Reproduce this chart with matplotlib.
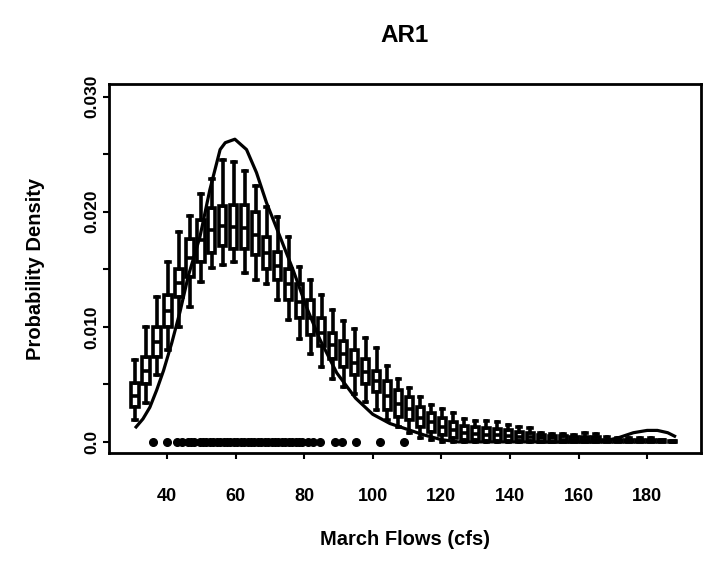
import matplotlib
matplotlib.use("Agg")
import matplotlib.pyplot as plt

plt.rcParams["font.family"] = ["Liberation Sans", "DejaVu Sans"]

# grid of flows where the simulated densities were evaluated
positions = [30.7, 33.9, 37.1, 40.3, 43.5, 46.7, 49.9, 53.1, 56.3, 59.5,
             62.7, 65.9, 69.1, 72.3, 75.5, 78.7, 81.9, 85.1, 88.3, 91.5,
             94.7, 97.9, 101.1, 104.3, 107.5, 110.7, 113.9, 117.1, 120.3, 123.5,
             126.7, 129.9, 133.1, 136.3, 139.5, 142.7, 145.9, 149.1, 152.3, 155.5,
             158.7, 161.9, 165.1, 168.3, 171.5, 174.7, 177.9, 181.1, 184.3, 187.5]

# box statistics of the simulated densities
whis_lo = [.0019, .0034, .0058, .0080, .0100, .0117, .0139, .0151, .0154, .0156,
           .0147, .0141, .0137, .0123, .0106, .0089, .0076, .0065, .0055, .0048,
           .0042, .0035, .0028, .0019, .0013, .0008, .0003, .0002, 0, 0,
           0, 0, 0, 0, 0, 0, 0, 0, 0, 0,
           0, 0, 0, 0, 0, 0, 0, 0, 0, 0]
q1 = [.0030, .0050, .0074, .0100, .0126, .0143, .0156, .0164, .0170, .0168,
      .0168, .0162, .0150, .0141, .0123, .0108, .0093, .0083, .0072, .0065,
      .0058, .0050, .0043, .0028, .0022, .0019, .0013, .0009, .0006, .0003,
      .0002, .0002, .0001, .0001, .0001, .0001, .0001, 0, 0, 0,
      0, 0, 0, 0, 0, 0, 0, 0, 0, 0]
median = [.0040, .0062, .0087, .0114, .0138, .0160, .0175, .0184, .0188, .0187,
          .0186, .0180, .0164, .0153, .0137, .0122, .0108, .0095, .0084, .0076,
          .0069, .0061, .0053, .0040, .0033, .0029, .0021, .0017, .0013, .0010,
          .0008, .0007, .0006, .0006, .0005, .0004, .0004, .0003, .0003, .0002,
          .0002, .0002, .0002, .0001, .0001, .0001, .0001, .0001, .0001, 0]
q3 = [.0051, .0074, .0100, .0128, .0150, .0176, .0193, .0203, .0205, .0206,
      .0206, .0200, .0178, .0165, .0150, .0137, .0123, .0108, .0095, .0088,
      .0080, .0072, .0062, .0053, .0045, .0039, .0030, .0025, .0021, .0017,
      .0014, .0013, .0012, .0011, .0010, .0009, .0008, .0006, .0005, .0005,
      .0004, .0004, .0004, .0002, .0002, .0002, .0002, .0002, .0002, .0001]
whis_hi = [.0071, .0100, .0126, .0156, .0182, .0196, .0215, .0228, .0245, .0243,
           .0235, .0222, .0204, .0195, .0178, .0152, .0141, .0128, .0115, .0105,
           .0098, .0090, .0082, .0066, .0055, .0047, .0039, .0032, .0029, .0025,
           .0020, .0018, .0018, .0017, .0015, .0013, .0012, .0008, .0007, .0007,
           .0006, .0008, .0007, .0004, .0003, .0003, .0003, .0003, .0002, .0001]

# density of the historical flows
dens_x = [31, 33, 35, 37, 39, 41.4, 43.8, 46.2, 49.6, 52.5, 55.5, 57, 59.8,
          63.2, 66.1, 69, 73, 76.7, 80.7, 84.6, 89.5, 95, 100, 105, 110, 115,
          120, 125, 135, 150, 165, 168, 172, 176, 180, 183, 186, 188]
dens_y = [.0013, .0020, .0030, .0045, .0062, .0086, .0113, .0144, .0178, .0219,
          .0254, .0260, .0263, .0254, .0234, .0208, .0178, .0150, .0117, .0089,
          .0060, .0038, .0024, .0016, .0011, .0006, .0002, 0, 0, 0, 0, .0001,
          .0004, .0008, .0010, .0010, .0008, .0005]

# observed March flows
observed = [36, 40, 43, 44.5, 46, 47, 48, 49.5, 50.5, 51.5, 52.5, 53.5, 54.5,
            55.5, 56.5, 57.5, 58.5, 59.5, 60.5, 61.5, 62.5, 63.5, 64.5, 65.5,
            66.5, 67.5, 68.5, 69.5, 70.5, 71.5, 72.5, 73.5, 74.5, 75.5, 76.5,
            77.5, 78.5, 79.5, 81, 82.5, 84.5, 89, 91, 95, 102, 109]

fig = plt.figure(figsize=(7.05, 5.62), dpi=100)
ax = fig.add_axes([0.1546, 0.194, 0.8397, 0.6566])

stats = []
for i in range(len(positions)):
    stats.append({"whislo": whis_lo[i], "q1": q1[i], "med": median[i],
                  "q3": q3[i], "whishi": whis_hi[i], "fliers": []})

lw = 2.6
ax.bxp(stats, positions=positions, widths=2.1, manage_ticks=False,
       patch_artist=True,
       boxprops=dict(facecolor="white", edgecolor="black", linewidth=lw),
       medianprops=dict(color="black", linewidth=lw),
       whiskerprops=dict(color="black", linewidth=lw),
       capprops=dict(color="black", linewidth=lw), capwidths=1.0)

ax.plot(dens_x, dens_y, color="black", linewidth=2.3)
ax.plot(observed, [0] * len(observed), "o", color="black", markersize=5.5)

ax.set_xlim(23.1, 195.7)
ax.set_ylim(-0.00096, 0.0311)

ax.set_xticks([40, 60, 80, 100, 120, 140, 160, 180])
ax.set_xticklabels(["40", "60", "80", "100", "120", "140", "160", "180"],
                   fontweight="bold")
ax.set_yticks([0, 0.005, 0.010, 0.015, 0.020, 0.025, 0.030])
ax.set_yticklabels(["0.0", "", "0.010", "", "0.020", "", "0.030"],
                   rotation=90, va="center", fontweight="bold")

ax.tick_params(axis="x", direction="out", length=4, width=1.5,
               pad=21, labelsize=13)
ax.tick_params(axis="y", direction="out", length=4, width=1.5,
               pad=3, labelsize=12.5)
for s in ax.spines.values():
    s.set_linewidth(2.0)

ax.set_xlabel("March Flows (cfs)", fontsize=14.5, fontweight="bold",
              labelpad=18)
ax.set_ylabel("Probability Density", fontsize=14.5, fontweight="bold",
              labelpad=28)
ax.set_title("AR1", fontsize=17.5, fontweight="bold", pad=30)

fig.savefig("out.png", dpi=100)
